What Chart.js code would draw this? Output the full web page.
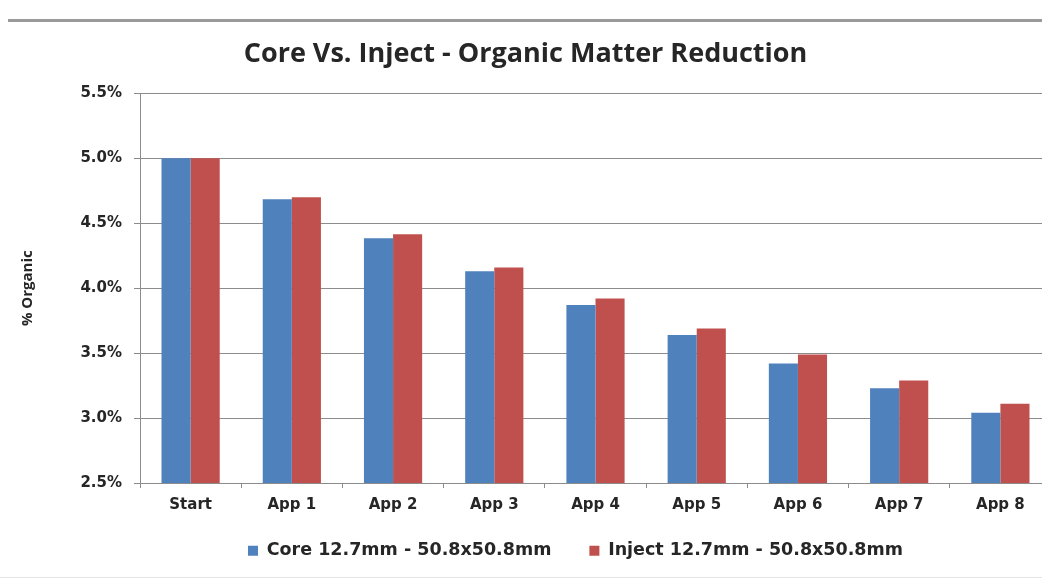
<!DOCTYPE html>
<html>
<head>
<meta charset="utf-8">
<script src="https://cdn.jsdelivr.net/npm/chart.js@4"></script>
<style>
  html, body { margin: 0; padding: 0; background: #fff; overflow: hidden; }
  .wrap { position: relative; width: 1042px; height: 581px; overflow: hidden; }
  .topline { position: absolute; left: 8px; right: 0; top: 19px; height: 3px; background: #9a9a9a; }
  .botline { position: absolute; left: 0; right: 0; top: 577px; height: 1px; background: #e4e4e4; }
  canvas { position: absolute; left: 0; top: 0; }
</style>
</head>
<body>
<div class="wrap">
  <div class="topline"></div>
  <div class="botline"></div>
  <canvas id="chart" width="1052" height="581"></canvas>
</div>
<script>
const categories = ['Start', 'App 1', 'App 2', 'App 3', 'App 4', 'App 5', 'App 6', 'App 7', 'App 8']
const coreValues = [5.0, 4.685, 4.385, 4.13, 3.87, 3.64, 3.42, 3.23, 3.04]
const injectValues = [5.0, 4.70, 4.415, 4.16, 3.92, 3.69, 3.49, 3.29, 3.11]
const yTicks = [2.5, 3.0, 3.5, 4.0, 4.5, 5.0, 5.5]

const titleFont = "'Open Sans', sans-serif"
const tickFont = "'DejaVu Sans', sans-serif"
const ink = '#262626'
const gridGray = '#8c8c8c'

// nudge the legend left of the plot centre and up a little, like the original
const legendShift = {
    id: 'legendShift',
    afterLayout(chart) {
        const lg = chart.legend
        if (!lg) return
        lg.left -= 20; lg.right -= 20
        lg.top -= 10; lg.bottom -= 10
    }
}

const ctx = document.querySelector('#chart').getContext('2d')
new Chart(ctx, {
    type: 'bar',
    data: {
        labels: categories,
        datasets: [{
            label: 'Core 12.7mm - 50.8x50.8mm',
            data: coreValues,
            backgroundColor: '#4f81bd',
            categoryPercentage: 0.575,
            barPercentage: 1.0
        }, {
            label: 'Inject 12.7mm - 50.8x50.8mm',
            data: injectValues,
            backgroundColor: '#c0504d',
            categoryPercentage: 0.575,
            barPercentage: 1.0
        }]
    },
    plugins: [legendShift],
    options: {
        responsive: false,
        animation: false,
        layout: { padding: { top: 30, left: 0, right: 1, bottom: 1.5 } },
        plugins: {
            title: {
                display: true,
                text: 'Core Vs. Inject - Organic Matter Reduction',
                color: ink,
                font: { family: titleFont, size: 27, weight: 'bold' },
                padding: { top: 8, bottom: 23 }
            },
            legend: {
                position: 'bottom',
                fullSize: false,
                labels: {
                    color: ink,
                    font: { family: tickFont, size: 17.5, weight: 'bold' },
                    boxWidth: 10,
                    boxHeight: 10,
                    padding: 38
                }
            },
            tooltip: { enabled: false }
        },
        scales: {
            x: {
                afterFit: (scale) => { scale.height = 31 },
                grid: { drawOnChartArea: false, offset: true, tickLength: 5, color: gridGray },
                border: { color: gridGray },
                ticks: { color: ink, font: { family: tickFont, size: 15, weight: 'bold' }, padding: 8 }
            },
            y: {
                min: 2.5,
                max: 5.5,
                afterBuildTicks: (scale) => { scale.ticks = yTicks.map(v => ({ value: v })) },
                afterFit: (scale) => { scale.width = 140 },
                grid: { color: gridGray, tickLength: 6 },
                border: { color: gridGray },
                title: {
                    display: true,
                    text: '% Organic',
                    color: ink,
                    font: { family: titleFont, size: 15, weight: 'bold' },
                    padding: { top: 19, bottom: 4 }
                },
                ticks: {
                    color: ink,
                    font: { family: tickFont, size: 15, weight: 'bold' },
                    padding: 12,
                    callback: (v) => v.toFixed(1) + '%'
                }
            }
        }
    }
})
</script>
</body>
</html>
